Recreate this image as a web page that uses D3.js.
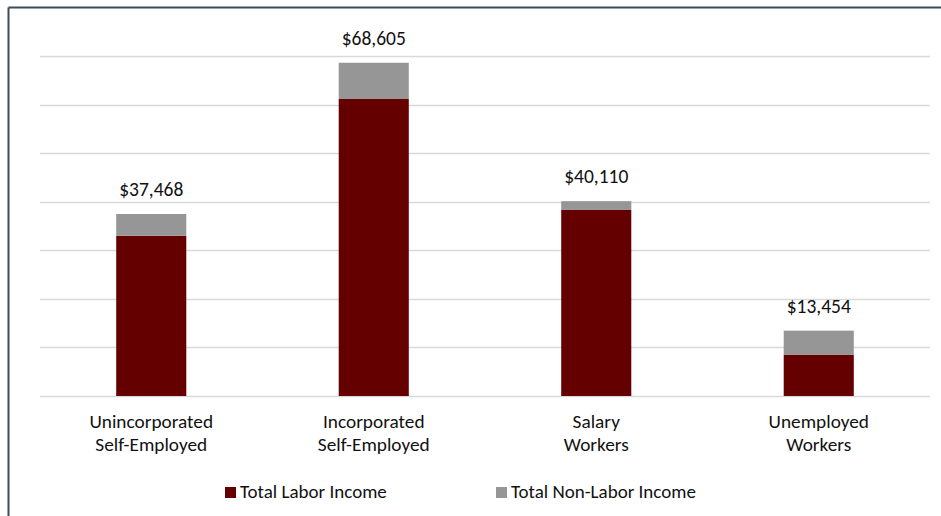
<!DOCTYPE html>
<html>
<head>
<meta charset="utf-8">
<script src="https://cdn.jsdelivr.net/npm/d3@7"></script>
<style>
  body { margin: 0; background: #fff; }
  svg { display: block; }
  text { font-family: Carlito, Lato, "Open Sans", sans-serif; fill: #111; }
</style>
</head>
<body>
<svg id="chart" width="941" height="516"></svg>
<script>
const categories = [["Unincorporated", "Self-Employed"], ["Incorporated", "Self-Employed"], ["Salary", "Workers"], ["Unemployed", "Workers"]];
const totalLabels = ["$37,468", "$68,605", "$40,110", "$13,454"];
const laborIncome = [33000, 61150, 38300, 8450];
const nonLaborIncome = [4468, 7455, 1810, 5004];
const seriesNames = ["Total Labor Income", "Total Non-Labor Income"];
const seriesColors = ["#650000", "#969696"];
const yTicks = [0, 10000, 20000, 30000, 40000, 50000, 60000, 70000];

const svg = d3.select("#chart");

// outer frame
svg.append("line").attr("x1", 8.5).attr("x2", 941).attr("y1", 7.5).attr("y2", 7.5).attr("stroke", "#3b4d5a").attr("stroke-width", 2);
svg.append("line").attr("x1", 8.5).attr("x2", 8.5).attr("y1", 7.5).attr("y2", 516).attr("stroke", "#3b4d5a").attr("stroke-width", 2);

const plotLeft = 40, plotRight = 930, plotTop = 56, plotBottom = 396;
const x = d3.scaleBand().domain(d3.range(categories.length)).range([plotLeft, plotRight]).paddingInner(0.685).paddingOuter(0.3425);
const y = d3.scaleLinear().domain([0, 70000]).range([plotBottom, plotTop]);

// gridlines
svg.append("g").selectAll("line").data(yTicks).join("line")
  .attr("x1", plotLeft).attr("x2", plotRight)
  .attr("y1", d => Math.round(y(d)) + 0.5).attr("y2", d => Math.round(y(d)) + 0.5)
  .attr("stroke", "#d9d9d9").attr("stroke-width", 1.5);

const data = categories.map((c, i) => ({ i, labor: laborIncome[i], non: nonLaborIncome[i] }));
const stack = d3.stack().keys(["labor", "non"])(data);

svg.append("g").selectAll("g").data(stack).join("g")
  .attr("fill", (d, k) => seriesColors[k])
  .selectAll("rect").data(d => d).join("rect")
  .attr("x", d => x(d.data.i))
  .attr("width", x.bandwidth())
  .attr("y", d => y(d[1]))
  .attr("height", d => y(d[0]) - y(d[1]));

// total labels
svg.append("g").selectAll("text").data(data).join("text")
  .attr("x", d => x(d.i) + x.bandwidth() / 2)
  .attr("y", d => y(d.labor + d.non) - 18)
  .attr("text-anchor", "middle")
  .attr("font-size", 19.5)
  .text(d => totalLabels[d.i]);

// category labels
const cat = svg.append("g").selectAll("text").data(categories).join("text")
  .attr("text-anchor", "middle")
  .attr("font-size", 19.3)
  .attr("x", (d, i) => x(i) + x.bandwidth() / 2)
  .attr("y", 428);
cat.selectAll("tspan").data(d => d).join("tspan")
  .attr("x", function() { return d3.select(this.parentNode).attr("x"); })
  .attr("dy", (d, j) => j === 0 ? 0 : 23)
  .text(d => d);

// legend
const legendX = [225, 496];
const lg = svg.append("g").selectAll("g").data(seriesNames).join("g")
  .attr("transform", (d, i) => `translate(${legendX[i]},487)`);
lg.append("rect").attr("width", 11).attr("height", 11).attr("fill", (d, i) => seriesColors[i]);
lg.append("text").attr("x", 15).attr("y", 11).attr("font-size", 19).text(d => d);
</script>
</body>
</html>
